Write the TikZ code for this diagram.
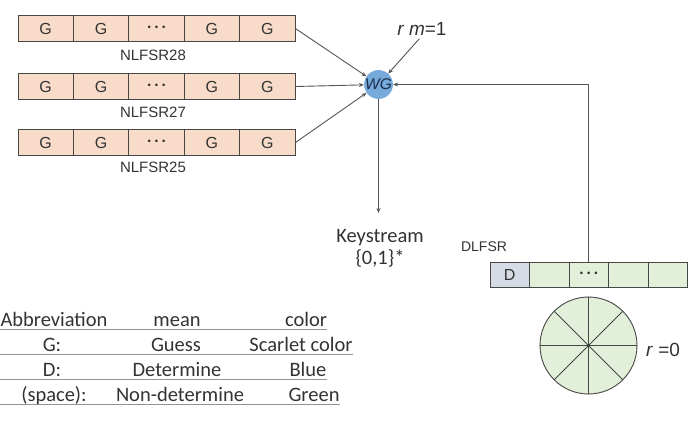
\documentclass[tikz,border=0pt]{standalone}
\usepackage{fontspec}
\setmainfont{Liberation Sans}
\newfontfamily\calfont{Carlito}
\usetikzlibrary{arrows.meta}

\definecolor{peach}{HTML}{F8DCC9}
\definecolor{paleblue}{HTML}{D6DCE6}
\definecolor{palegreen}{HTML}{E2EFD9}
\definecolor{wgblue}{HTML}{75AADB}
\definecolor{wgtext}{HTML}{1C2A48}
\definecolor{inkgray}{HTML}{333333}
\definecolor{linegray}{HTML}{555555}

% three centred dots used in the middle cell of each register
\newcommand{\celldots}{{\fontsize{9.5}{9.5}\selectfont\textbullet\hspace{4pt}\textbullet\hspace{4pt}\textbullet}}

\begin{document}
\begin{tikzpicture}[x=1pt,y=-1pt,
  regcell/.style={draw=black!72, line width=0.9pt, inner sep=0pt,
    minimum height=26pt, text=inkgray, font=\fontsize{16}{16}\selectfont},
  gcell/.style={regcell, fill=peach, minimum width=55.4pt},
  dcell/.style={regcell, fill=palegreen, minimum width=39.5pt, minimum height=25pt},
  reglabel/.style={text=inkgray, font=\fontsize{15}{15}\selectfont, inner sep=0pt},
  arr/.style={draw=linegray, line width=0.9pt, -{Stealth[length=5pt,width=4pt]}},
  tabtext/.style={text=inkgray, font=\calfont\fontsize{20.5}{20.5}\selectfont, anchor=base, inner sep=0pt},
  rule/.style={draw=gray!85, line width=1.2pt}
]
\useasboundingbox (0,0) rectangle (700,432);

% ---- three NLFSR registers ----
\foreach \r/\y/\ly in {28/28.5/55.5, 27/86.5/112, 25/142.5/167.5} {
  \foreach \i/\t in {1/G, 2/G, 3/\celldots, 4/G, 5/G} {
    \node[gcell] (n\r c\i) at ({18+55.4*(\i-0.5)}, \y) {\t};
  }
  \node[reglabel] (lab\r) at (153, \ly) {NLFSR\r};
}

% ---- WG combining function ----
\node[circle, fill=wgblue, minimum size=27pt, inner sep=0pt,
      text=wgtext, font=\itshape\fontsize{15.5}{15.5}\selectfont] (wg) at (378.5,84.5) {WG};

\node[text=inkgray, font=\fontsize{19}{19}\selectfont, inner sep=0pt] (rm) at (422,29) {\textit{r m}=1};

\draw[arr] (n28c5.east) -- (wg);
\draw[arr] (n27c5.east) -- (wg);
\draw[arr] (n25c5.east) -- (wg);
\draw[arr, shorten <=4pt] (rm.south) -- (wg);

% ---- keystream output ----
\node[text=inkgray, font=\calfont\fontsize{20.5}{22}\selectfont, align=center, inner sep=0pt] (ks) at (380,248) {Keystream\\\{0,1\}*};
\coordinate (ksend) at (378.5,213);
\draw[arr] (wg.south) -- (ksend);

% ---- DLFSR register ----
\node[reglabel, font=\fontsize{14}{14}\selectfont] (dl) at (484,247) {DLFSR};
\node[dcell, fill=paleblue] (d1) at (509.75,274.5) {D};
\node[dcell] (d2) at (549.25,274.5) {};
\node[dcell] (d3) at (588.75,274.5) {\celldots};
\node[dcell] (d4) at (628.25,274.5) {};
\node[dcell] (d5) at (667.75,274.5) {};

\draw[arr] (d3.north) |- (wg.east);

% ---- state wheel ----
\node[circle, draw=black!72, line width=0.9pt, fill=palegreen, minimum size=97pt, inner sep=0pt] (disc) at (588.5,345.5) {};
\draw[draw=black!72, line width=0.9pt]
  (disc.north) -- (disc.south)
  (disc.west) -- (disc.east)
  (disc.north east) -- (disc.south west)
  (disc.north west) -- (disc.south east);
\fill[black!80] (disc.center) circle (1.3pt);
\node[text=inkgray, font=\fontsize{19}{19}\selectfont, inner sep=0pt] (r0) at (663,350) {\textit{r} =0};

% ---- legend table ----
\node[tabtext] (h1) at (54,326.7) {Abbreviation};
\node[tabtext] (h2) at (177,326.7) {mean};
\node[tabtext] (h3) at (306,326.7) {color};
\draw[rule] (0,329.5) -- (327,329.5);

\node[tabtext] (g1) at (52,351.7) {G:};
\node[tabtext] (g2) at (176,351.7) {Guess};
\node[tabtext] (g3) at (301,351.7) {Scarlet color};
\draw[rule] (0,354.5) -- (353,354.5);

\node[tabtext] (e1) at (52,376.7) {D:};
\node[tabtext] (e2) at (177,376.7) {Determine};
\node[tabtext] (e3) at (308,376.7) {Blue};
\draw[rule] (0,379.8) -- (327,379.8);

\node[tabtext] (s1) at (54,401.7) {(space):};
\node[tabtext] (s2) at (180,401.7) {Non-determine};
\node[tabtext] (s3) at (314,401.7) {Green};
\draw[rule] (0,404.8) -- (340,404.8);
\end{tikzpicture}
\end{document}
